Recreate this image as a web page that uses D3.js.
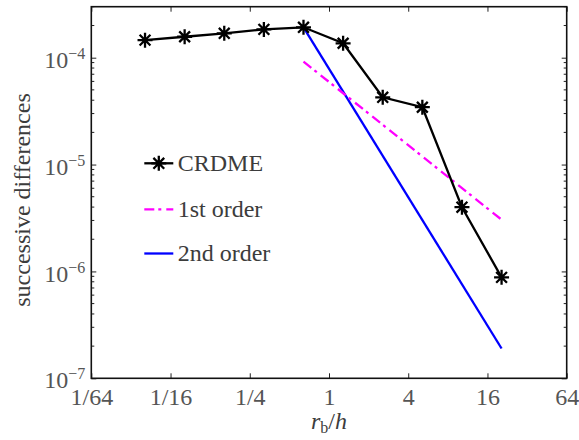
<!DOCTYPE html>
<html>
<head>
<meta charset="utf-8">
<script src="https://cdn.jsdelivr.net/npm/d3@7"></script>
<style>
  body { margin: 0; background: #fff; }
  text { font-family: "Liberation Serif", serif; }
</style>
</head>
<body>
<svg class="chart"></svg>
<script>
// r_b/h values and the CRDME successive differences
const ratios = [0.04, 0.08, 0.16, 0.32, 0.64, 1.28, 2.56, 5.12, 10.24, 20.48];
const crdme = [1.46e-4, 1.57e-4, 1.69e-4, 1.84e-4, 1.925e-4, 1.364e-4, 4.26e-5, 3.44e-5, 3.99e-6, 8.8e-7];

// reference slopes
const firstOrderX = [0.64, 20.48];
const firstOrder = [9.2e-5, 3.05e-6];
const secondOrderX = [0.64, 20.48];
const secondOrder = [1.925e-4, 1.9e-7];

const xTicks = [1/64, 1/16, 1/4, 1, 4, 16, 64];
const xTickLabels = ["1/64", "1/16", "1/4", "1", "4", "16", "64"];
const yTicks = [1e-7, 1e-6, 1e-5, 1e-4];
const yTickExps = ["\u22127", "\u22126", "\u22125", "\u22124"];

const legendNames = ["CRDME", "1st order", "2nd order"];

function chart() {
    const W = 579, H = 440;
    const margin = {top: 6.7, right: 12.3, bottom: 61.7, left: 91.3},
        width = W - margin.left - margin.right,
        height = H - margin.top - margin.bottom;

    const root = d3.select(".chart")
        .attr("width", W)
        .attr("height", H);

    const svg = root.append("g")
        .attr("transform", `translate(${margin.left}, ${margin.top})`);

    const x = d3.scaleLog().base(2)
        .domain([1/64, 64])
        .range([0, width]);

    const y = d3.scaleLog()
        .domain([1e-7, 3e-4])
        .range([height, 0]);

    const tickGrey = "#555";
    const textGrey = "#3c3c3c";

    // bottom axis
    const xAxis = svg.append("g")
        .attr("transform", `translate(0,${height})`)
        .call(d3.axisBottom(x)
            .tickValues(xTicks)
            .tickFormat((d, i) => xTickLabels[i])
            .tickSizeInner(-5)
            .tickSizeOuter(0)
            .tickPadding(10));
    xAxis.select(".domain").remove();
    xAxis.selectAll("text")
        .attr("font-size", 24)
        .attr("font-family", "Liberation Serif")
        .attr("fill", tickGrey);
    xAxis.selectAll("line").attr("stroke", "#222");

    // top axis (ticks only)
    const xTop = svg.append("g")
        .call(d3.axisTop(x).tickValues(xTicks).tickFormat("").tickSizeInner(-5).tickSizeOuter(0));
    xTop.select(".domain").remove();
    xTop.selectAll("line").attr("stroke", "#222");

    // left axis with 10^n labels
    const yAxis = svg.append("g")
        .call(d3.axisLeft(y)
            .tickValues(yTicks)
            .tickFormat("")
            .tickSizeInner(-5)
            .tickSizeOuter(0)
            .tickPadding(6));
    yAxis.select(".domain").remove();
    yAxis.selectAll("line").attr("stroke", "#222");
    yAxis.selectAll("text")
        .attr("dy", null)
        .attr("y", 9.6)
        .attr("fill", tickGrey)
        .attr("font-family", "Liberation Serif")
        .each(function(d, i) {
            const t = d3.select(this);
            t.append("tspan").attr("font-size", 24).text("10");
            t.append("tspan").attr("font-size", 16).attr("dy", -9).text(yTickExps[i]);
        });

    // right axis ticks
    const yRight = svg.append("g")
        .attr("transform", `translate(${width},0)`)
        .call(d3.axisRight(y).tickValues(yTicks).tickFormat("").tickSizeInner(-5).tickSizeOuter(0));
    yRight.select(".domain").remove();
    yRight.selectAll("line").attr("stroke", "#222");

    // minor log ticks on y
    const minor = y.ticks().filter(d => Math.abs(Math.log10(d) - Math.round(Math.log10(d))) > 1e-6);
    svg.append("g").selectAll("line")
        .data(minor)
        .join("line")
        .attr("x1", 0).attr("x2", 3)
        .attr("y1", d => y(d)).attr("y2", d => y(d))
        .attr("stroke", "#222");
    svg.append("g").selectAll("line")
        .data(minor)
        .join("line")
        .attr("x1", width).attr("x2", width - 3)
        .attr("y1", d => y(d)).attr("y2", d => y(d))
        .attr("stroke", "#222");

    const line = d3.line()
        .x(d => x(d[0]))
        .y(d => y(d[1]));

    // 2nd order
    svg.append("path")
        .datum(secondOrderX.map((v, i) => [v, secondOrder[i]]))
        .attr("fill", "none")
        .attr("stroke", "#0000ff")
        .attr("stroke-width", 2.3)
        .attr("d", line);

    // 1st order
    svg.append("path")
        .datum(firstOrderX.map((v, i) => [v, firstOrder[i]]))
        .attr("fill", "none")
        .attr("stroke", "#ff00ff")
        .attr("stroke-width", 2.3)
        .attr("stroke-dasharray", "10,4,3,5")
        .attr("d", line);

    // CRDME
    const pts = ratios.map((v, i) => [v, crdme[i]]);
    svg.append("path")
        .datum(pts)
        .attr("fill", "none")
        .attr("stroke", "#000")
        .attr("stroke-width", 2.3)
        .attr("d", line);

    const star = r => {
        const q = r * 0.72;
        return `M${-r},0H${r}M0,${-r}V${r}M${-q},${-q}L${q},${q}M${-q},${q}L${q},${-q}`;
    };

    svg.append("g").selectAll("path")
        .data(pts)
        .join("path")
        .attr("transform", d => `translate(${x(d[0])},${y(d[1])})`)
        .attr("d", star(7.5))
        .attr("fill", "none")
        .attr("stroke", "#000")
        .attr("stroke-width", 2.3);

    // box
    svg.append("rect")
        .attr("width", width)
        .attr("height", height)
        .attr("fill", "none")
        .attr("stroke", "#111")
        .attr("stroke-width", 1.6);

    // legend
    const lx = 144.3 - margin.left, lw = 29, tx = 177.7 - margin.left;
    const rows = [163.3, 209.3, 253.5].map(v => v - margin.top);
    const leg = svg.append("g");
    leg.append("line").attr("x1", lx).attr("x2", lx + lw).attr("y1", rows[0]).attr("y2", rows[0])
        .attr("stroke", "#000").attr("stroke-width", 2.3);
    leg.append("path").attr("transform", `translate(${lx + lw / 2},${rows[0]})`)
        .attr("d", star(7.5)).attr("fill", "none").attr("stroke", "#000").attr("stroke-width", 2.3);
    leg.append("line").attr("x1", lx).attr("x2", lx + lw).attr("y1", rows[1]).attr("y2", rows[1])
        .attr("stroke", "#ff00ff").attr("stroke-width", 2.3).attr("stroke-dasharray", "10,4,3,5");
    leg.append("line").attr("x1", lx).attr("x2", lx + lw).attr("y1", rows[2]).attr("y2", rows[2])
        .attr("stroke", "#0000ff").attr("stroke-width", 2.3);
    leg.selectAll("text")
        .data(legendNames)
        .join("text")
        .attr("x", tx)
        .attr("y", (d, i) => rows[i] + 8)
        .attr("font-size", 24)
        .attr("fill", textGrey)
        .text(d => d);

    // axis titles
    const xl = root.append("text")
        .attr("x", margin.left + width / 2)
        .attr("y", 429)
        .attr("text-anchor", "middle")
        .attr("font-size", 24)
        .attr("fill", textGrey);
    xl.append("tspan").attr("font-style", "italic").text("r");
    xl.append("tspan").attr("font-size", 16).attr("dy", 4).text("b");
    xl.append("tspan").attr("dy", -4).text("/");
    xl.append("tspan").attr("font-style", "italic").text("h");

    root.append("text")
        .attr("transform", `translate(30,200) rotate(-90)`)
        .attr("text-anchor", "middle")
        .attr("font-size", 24)
        .attr("fill", textGrey)
        .text("successive differences");
}

chart();
</script>
</body>
</html>
